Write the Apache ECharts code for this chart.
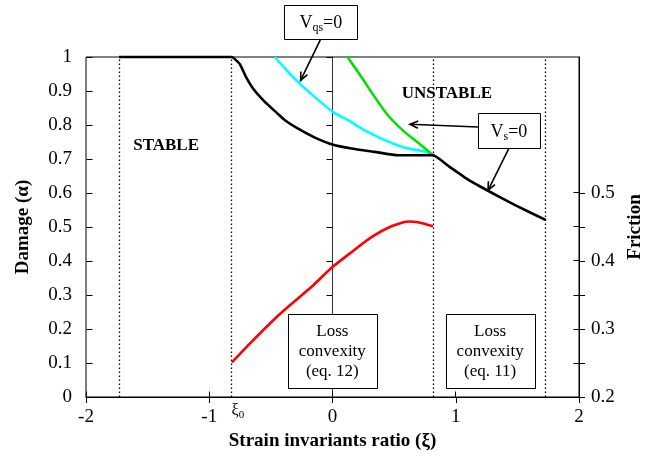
<!DOCTYPE html>
<html>
<head>
<meta charset="utf-8">
<script src="https://cdn.jsdelivr.net/npm/echarts@6/dist/echarts.min.js"></script>
<style>
  html, body { margin: 0; padding: 0; background: #fff; }
  #chart { width: 645px; height: 462px; }
</style>
</head>
<body>
<div id="chart"></div>
<script>
// Damage curve alpha(xi)
const damageXi    = [-1.732, -1.2, -0.816, -0.79, -0.75, -0.70, -0.64, -0.549, -0.45, -0.386, -0.279, -0.143, 0.005, 0.154, 0.343, 0.532, 0.65, 0.735, 0.816, 0.95, 1.11, 1.28, 1.49, 1.732];
const damageAlpha = [1.0, 1.0, 1.0, 0.993, 0.978, 0.94, 0.905, 0.868, 0.835, 0.814, 0.789, 0.763, 0.742, 0.731, 0.721, 0.711, 0.711, 0.711, 0.711, 0.677, 0.637, 0.603, 0.563, 0.52];

// Vqs = 0 boundary
const vqsXi    = [-0.468, -0.38, -0.279, -0.143, 0.005, 0.127, 0.262, 0.397, 0.532, 0.64, 0.748, 0.816];
const vqsAlpha = [1.0, 0.964, 0.926, 0.882, 0.838, 0.814, 0.784, 0.760, 0.740, 0.729, 0.722, 0.711];

// Vs = 0 boundary
const vsXi    = [0.122, 0.235, 0.343, 0.451, 0.587, 0.722, 0.816];
const vsAlpha = [1.0, 0.941, 0.882, 0.828, 0.779, 0.740, 0.711];

// Friction (right axis)
const frictionXi = [-0.816, -0.657, -0.468, -0.332, -0.170, -0.008, 0.154, 0.316, 0.478, 0.613, 0.694, 0.816];
const frictionMu = [0.251, 0.281, 0.315, 0.337, 0.362, 0.390, 0.413, 0.435, 0.451, 0.458, 0.457, 0.451];

// Regime boundaries: -sqrt(3), xi0 = -sqrt(2/3), sqrt(2/3), sqrt(3)
const regimeBounds = [-1.732, -0.816, 0.816, 1.732];

// Tick values
const xiTicks        = [-2, -1, 0, 1, 2];
const alphaTicks     = [0, 0.1, 0.2, 0.3, 0.4, 0.5, 0.6, 0.7, 0.8, 0.9, 1];
const frictionTicks  = [0.2, 0.25, 0.3, 0.35, 0.4, 0.45, 0.5];
const frictionLabels = [0.2, 0.3, 0.4, 0.5];

const SERIF = '"Liberation Serif", "Times New Roman", serif';
const zip = (xs, ys) => xs.map((x, i) => [x, ys[i]]);
const crisp = v => Math.round(v - 0.5) + 0.5;

const chart = echarts.init(document.getElementById('chart'), null, { renderer: 'canvas' });

const tickFont = { color: '#000', fontFamily: SERIF, fontSize: 19 };
const nameFont = { color: '#000', fontFamily: SERIF, fontSize: 19, fontWeight: 'bold' };
const blackLine = { lineStyle: { color: '#000', width: 1 } };

// Inner half of the crossing tick marks, drawn through the axis scales
function innerTicks(values, yAxisIndex, toPoint, dx, dy) {
  return {
    type: 'custom', xAxisIndex: 0, yAxisIndex: yAxisIndex, clip: false, silent: true, z: 6,
    data: values.map(toPoint),
    renderItem: (params, api) => {
      const p = api.coord([api.value(0), api.value(1)]);
      const x = crisp(p[0]), y = crisp(p[1]);
      return {
        type: 'line',
        shape: { x1: x, y1: y, x2: x + dx, y2: y + dy },
        style: { stroke: '#000', lineWidth: 1 }
      };
    }
  };
}

chart.setOption({
  animation: false,
  backgroundColor: '#fff',
  grid: {
    left: 86, right: 66, top: 57, bottom: 65, outerBoundsMode: 'none', containLabel: false,
    show: true, borderColor: '#000', borderWidth: 1, backgroundColor: 'transparent'
  },
  xAxis: {
    type: 'value', min: -2, max: 2, interval: 1, position: 'bottom',
    axisLine: blackLine,
    axisTick: { show: true, inside: false, length: 6, lineStyle: { color: '#000' } },
    axisLabel: Object.assign({ margin: 11, formatter: v => String(v) }, tickFont),
    splitLine: { show: false },
    name: 'Strain invariants ratio (ξ)', nameLocation: 'middle', nameGap: 33, nameTextStyle: nameFont
  },
  yAxis: [
    {
      type: 'value', min: 0, max: 1, interval: 0.1, position: 'left',
      axisLine: Object.assign({ show: true }, blackLine),
      axisTick: { show: true, inside: false, length: 6, lineStyle: { color: '#000' } },
      axisLabel: Object.assign({ margin: 14, formatter: v => String(Math.round(v * 10) / 10) }, tickFont),
      splitLine: { show: false },
      name: 'Damage (α)', nameLocation: 'middle', nameGap: 53, nameRotate: 90, nameTextStyle: nameFont
    },
    {
      type: 'value', min: 0.2, max: 0.7, interval: 0.05, position: 'right',
      axisLine: Object.assign({ show: true }, blackLine),
      axisTick: { show: true, inside: false, length: 6, customValues: frictionTicks, lineStyle: { color: '#000' } },
      axisLabel: Object.assign({ margin: 12, customValues: frictionLabels, formatter: v => v.toFixed(1) }, tickFont),
      splitLine: { show: false },
      name: 'Friction', nameLocation: 'middle', nameGap: 47, nameRotate: 90, nameTextStyle: nameFont
    }
  ],
  series: [
    {
      name: 'damage', type: 'line', xAxisIndex: 0, yAxisIndex: 0, clip: false, smooth: 0.15,
      data: zip(damageXi, damageAlpha), showSymbol: false, symbol: 'none',
      lineStyle: { color: '#000', width: 2.6 }, z: 4,
      markLine: {
        silent: true, symbol: ['none', 'none'], label: { show: false }, z: 1,
        data: regimeBounds.map(v => ({ xAxis: v, lineStyle: { color: '#000', width: 1.3, type: [1.5, 2.5] } }))
          .concat([{ xAxis: 0, lineStyle: { color: '#333', width: 1, type: 'solid' } }])
      }
    },
    {
      name: 'Vqs=0', type: 'line', xAxisIndex: 0, yAxisIndex: 0, clip: false, smooth: 0.2,
      data: zip(vqsXi, vqsAlpha), showSymbol: false, symbol: 'none',
      lineStyle: { color: '#00ffff', width: 2.6 }, z: 3
    },
    {
      name: 'Vs=0', type: 'line', xAxisIndex: 0, yAxisIndex: 0, clip: false, smooth: 0.2,
      data: zip(vsXi, vsAlpha), showSymbol: false, symbol: 'none',
      lineStyle: { color: '#00e000', width: 2.6 }, z: 3
    },
    {
      name: 'friction', type: 'line', xAxisIndex: 0, yAxisIndex: 1, clip: false, smooth: 0.2,
      data: zip(frictionXi, frictionMu), showSymbol: false, symbol: 'none',
      lineStyle: { color: '#ff0000', width: 2.6 }, z: 3
    },
    innerTicks(xiTicks, 0, v => [v, 0], 0, -6),
    innerTicks(alphaTicks, 0, v => [xiTicks[0], v], 6, 0),
    innerTicks(frictionTicks, 1, v => [xiTicks[xiTicks.length - 1], v], -6, 0)
  ]
});

// Annotations, placed in (xi, alpha) coordinates
const px = (xi, alpha) => chart.convertToPixel({ seriesIndex: 0 }, [xi, alpha]);

const regionLabels = [
  { text: 'STABLE', at: [-1.35, 0.74] },
  { text: 'UNSTABLE', at: [0.928, 0.893] }
];
const subRich = {
  m: { fontSize: 18, fontFamily: SERIF, lineHeight: 22, fill: '#000' },
  s: { fontSize: 12, fontFamily: SERIF, lineHeight: 12, padding: [10, 0, 0, 0], fill: '#000' }
};
const boxes = [
  { text: '{m|V}{s|qs}{m|=0}', rich: true, from: [-0.391, 1.152], to: [0.201, 1.052] },
  { text: '{m|V}{s|s}{m|=0}', rich: true, from: [1.181, 0.834], to: [1.682, 0.732] },
  { text: 'Loss\nconvexity\n(eq. 12)', from: [-0.363, 0.243], to: [0.360, 0.026] },
  { text: 'Loss\nconvexity\n(eq. 11)', from: [0.917, 0.243], to: [1.641, 0.026] }
];
const arrows = [
  { from: [-0.097, 1.052], to: [-0.259, 0.931] },
  { from: [1.181, 0.794], to: [0.628, 0.802] },
  { from: [1.432, 0.732], to: [1.262, 0.608] }
];

const graphics = [];
regionLabels.forEach(l => {
  const p = px(l.at[0], l.at[1]);
  graphics.push({
    type: 'text', x: p[0], y: p[1], z: 50,
    style: { text: l.text, fontFamily: SERIF, fontSize: 17, fontWeight: 'bold', fill: '#000', align: 'center', verticalAlign: 'middle' }
  });
});
boxes.forEach(b => {
  const a = px(b.from[0], b.from[1]);
  const c = px(b.to[0], b.to[1]);
  graphics.push({
    type: 'rect', z: 50,
    shape: { x: Math.round(a[0]) + 0.5, y: Math.round(a[1]) + 0.5, width: Math.round(c[0] - a[0]), height: Math.round(c[1] - a[1]) },
    style: { fill: '#fff', stroke: '#000', lineWidth: 1 }
  });
  const style = b.rich
    ? { text: b.text, rich: subRich, align: 'center', verticalAlign: 'middle', fill: '#000' }
    : { text: b.text, fontFamily: SERIF, fontSize: 17, lineHeight: 20, fill: '#000', align: 'center', verticalAlign: 'middle' };
  graphics.push({ type: 'text', z: 51, x: (a[0] + c[0]) / 2, y: (a[1] + c[1]) / 2 + (b.rich ? 1 : 0), style });
});
arrows.forEach(ar => {
  const s = px(ar.from[0], ar.from[1]);
  const e = px(ar.to[0], ar.to[1]);
  const ang = Math.atan2(e[1] - s[1], e[0] - s[0]);
  const L = 9, w = 0.42;
  const h1 = [e[0] - L * Math.cos(ang - w), e[1] - L * Math.sin(ang - w)];
  const h2 = [e[0] - L * Math.cos(ang + w), e[1] - L * Math.sin(ang + w)];
  graphics.push({ type: 'line', z: 52, shape: { x1: s[0], y1: s[1], x2: e[0], y2: e[1] }, style: { stroke: '#000', lineWidth: 1.6 } });
  graphics.push({ type: 'polyline', z: 52, shape: { points: [h1, e, h2] }, style: { stroke: '#000', lineWidth: 1.6, fill: null } });
});
// xi0 marker below the axis
const x0 = px(regimeBounds[1], 0);
graphics.push({
  type: 'text', z: 50, x: x0[0] + 6, y: x0[1] + 14,
  style: {
    text: '{g|ξ}{z|0}', align: 'center', verticalAlign: 'middle',
    rich: {
      g: { fontSize: 16, fontFamily: SERIF, lineHeight: 18, fill: '#000' },
      z: { fontSize: 11, fontFamily: SERIF, lineHeight: 11, padding: [8, 0, 0, 0], fill: '#000' }
    }
  }
});

chart.setOption({ graphic: graphics });
</script>
</body>
</html>
